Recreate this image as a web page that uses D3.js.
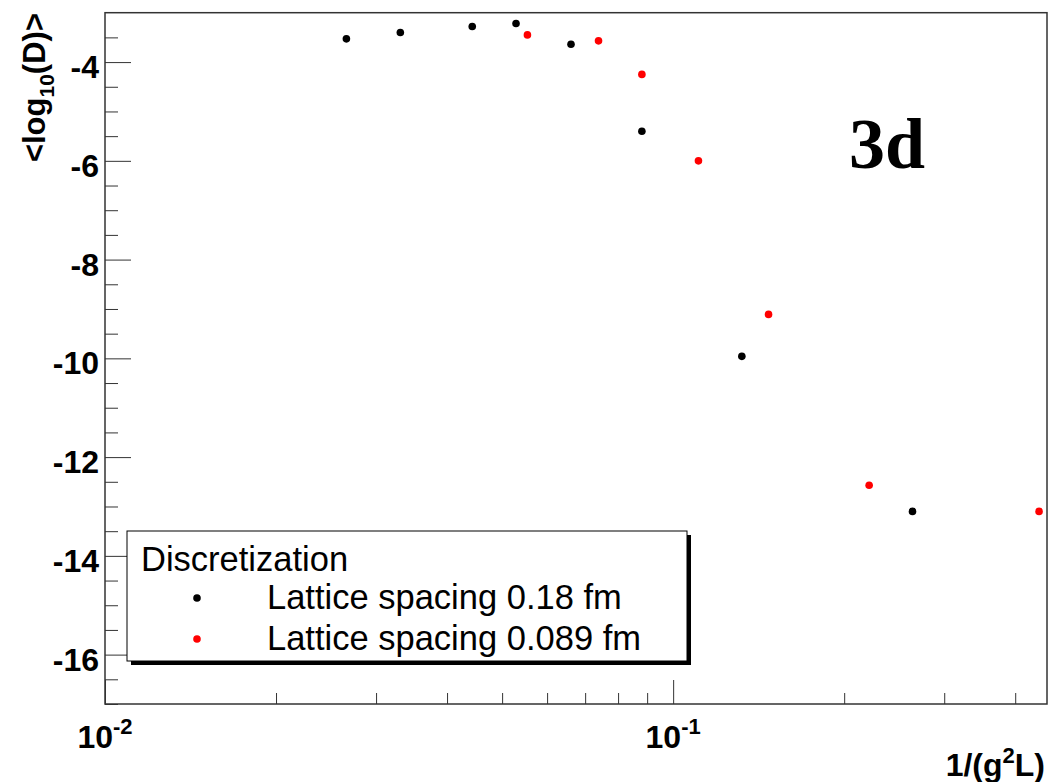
<!DOCTYPE html>
<html>
<head>
<meta charset="utf-8">
<script src="https://cdn.jsdelivr.net/npm/d3@7"></script>
<style>
  body { margin: 0; background: #fff; }
  text { font-family: "Liberation Sans", Arial, sans-serif; }
</style>
</head>
<body>
<div id="chart"></div>
<script>
// data
var xBlack = [0.0266, 0.0331, 0.0443, 0.0529, 0.0661, 0.0881, 0.1321, 0.2638];
var yBlack = [-3.53, -3.40, -3.28, -3.22, -3.64, -5.40, -9.96, -13.10];
var xRed = [0.0554, 0.0739, 0.0881, 0.1108, 0.1472, 0.2213, 0.4406];
var yRed = [-3.45, -3.57, -4.25, -6.00, -9.11, -12.57, -13.10];

var seriesNames = ["Lattice spacing 0.18 fm", "Lattice spacing 0.089 fm"];
var seriesColors = ["#000000", "#ff0000"];
var legendTitle = "Discretization";

var yMajor = [-16, -14, -12, -10, -8, -6, -4];
var xMajor = [0.01, 0.1];
var xMajorExp = ["-2", "-1"];
var xMinor = [0.02, 0.03, 0.04, 0.05, 0.06, 0.07, 0.08, 0.09, 0.2, 0.3, 0.4];

var W = 1049, H = 782;
var svg = d3.select("#chart").append("svg")
            .attr("width", W)
            .attr("height", H);

var x = d3.scaleLog().domain([0.01, 0.455]).range([105, 1047]);
var y = d3.scaleLinear().domain([-17, -3]).range([704, 12.7]);

// frame
svg.append("rect")
   .attr("x", x.range()[0]).attr("y", y.range()[1])
   .attr("width", x.range()[1] - x.range()[0])
   .attr("height", y.range()[0] - y.range()[1])
   .style("fill", "none")
   .style("stroke", "#333")
   .style("stroke-width", 1.5);

// y ticks: minor every 0.5, major every 2
var yMinor = d3.range(-17, -3.01, 0.5).filter(function(v) { return yMajor.indexOf(v) < 0; });
svg.append("g")
   .attr("transform", "translate(" + x.range()[0] + ",0)")
   .call(d3.axisLeft(y).tickValues(yMinor).tickSize(-13).tickFormat(""))
   .call(function(g) { g.select(".domain").remove(); g.selectAll("line").style("stroke", "#333"); });
var yAx = svg.append("g")
   .attr("transform", "translate(" + x.range()[0] + ",0)")
   .call(d3.axisLeft(y).tickValues(yMajor).tickSize(-26).tickPadding(6)
          .tickFormat(function(d) { return d; }));
yAx.select(".domain").remove();
yAx.selectAll("line").style("stroke", "#333");
yAx.selectAll("text")
   .attr("x", -6)
   .attr("dy", null)
   .attr("y", 15.5)
   .style("font-family", "'Liberation Sans', Arial, sans-serif")
   .style("font-weight", "bold")
   .style("font-size", "32px")
   .style("fill", "#000");

// x ticks
svg.append("g")
   .attr("transform", "translate(0," + y.range()[0] + ")")
   .call(d3.axisBottom(x).tickValues(xMinor).tickSize(-11).tickFormat(""))
   .call(function(g) { g.select(".domain").remove(); g.selectAll("line").style("stroke", "#333"); });
svg.append("g")
   .attr("transform", "translate(0," + y.range()[0] + ")")
   .call(d3.axisBottom(x).tickValues(xMajor).tickSize(-24).tickFormat(""))
   .call(function(g) { g.select(".domain").remove(); g.selectAll("line").style("stroke", "#333"); });

var xLab = svg.selectAll(".xlab")
   .data(xMajor)
   .enter().append("text")
   .attr("class", "xlab")
   .attr("x", function(d) { return x(d); })
   .attr("y", 748)
   .attr("text-anchor", "middle")
   .style("font-weight", "bold")
   .style("font-size", "32px");
xLab.append("tspan").text("10");
xLab.append("tspan")
    .attr("dy", -14)
    .style("font-size", "22px")
    .text(function(d, i) { return xMajorExp[i]; });

// axis titles
var yt = svg.append("text")
   .attr("transform", "translate(45,13) rotate(-90)")
   .attr("text-anchor", "end")
   .style("font-weight", "bold")
   .style("font-size", "31px");
yt.append("tspan").text("<log");
yt.append("tspan").attr("dy", 9).style("font-size", "21px").text("10");
yt.append("tspan").attr("dy", -9).text("(D)>");

var xt = svg.append("text")
   .attr("x", 1045)
   .attr("y", 776)
   .attr("text-anchor", "end")
   .style("font-weight", "bold")
   .style("font-size", "32px");
xt.append("tspan").text("1/(g");
xt.append("tspan").attr("dy", -13).style("font-size", "22px").text("2");
xt.append("tspan").attr("dy", 13).text("L)");

// points
var series = [d3.zip(xBlack, yBlack), d3.zip(xRed, yRed)];
series.forEach(function(pts, i) {
    svg.selectAll(".pt" + i)
       .data(pts)
       .enter().append("circle")
       .attr("class", "pt" + i)
       .attr("cx", function(d) { return x(d[0]); })
       .attr("cy", function(d) { return y(d[1]); })
       .attr("r", 3.8)
       .style("fill", seriesColors[i]);
});

// "3d" label
svg.append("text")
   .attr("x", 849)
   .attr("y", 168)
   .style("font-family", "'Liberation Serif', 'Times New Roman', serif")
   .style("font-weight", "bold")
   .style("font-size", "72px")
   .text("3d");

// legend
var lg = svg.append("g");
lg.append("rect")
  .attr("x", 131).attr("y", 535).attr("width", 560).attr("height", 130)
  .style("fill", "#000");
lg.append("rect")
  .attr("x", 127).attr("y", 531).attr("width", 560).attr("height", 130)
  .style("fill", "#fff").style("stroke", "#000").style("stroke-width", 1);
lg.append("text")
  .attr("x", 141).attr("y", 571)
  .style("font-size", "34.5px")
  .text(legendTitle);
var entries = lg.selectAll(".entry")
  .data(seriesNames)
  .enter().append("g")
  .attr("class", "entry")
  .attr("transform", function(d, i) { return "translate(0," + (598 + i * 41) + ")"; });
entries.append("circle")
  .attr("cx", 197).attr("cy", 0).attr("r", 3.8)
  .style("fill", function(d, i) { return seriesColors[i]; });
entries.append("text")
  .attr("x", 267).attr("y", 11)
  .style("font-size", "34.5px")
  .text(function(d) { return d; });
</script>
</body>
</html>
